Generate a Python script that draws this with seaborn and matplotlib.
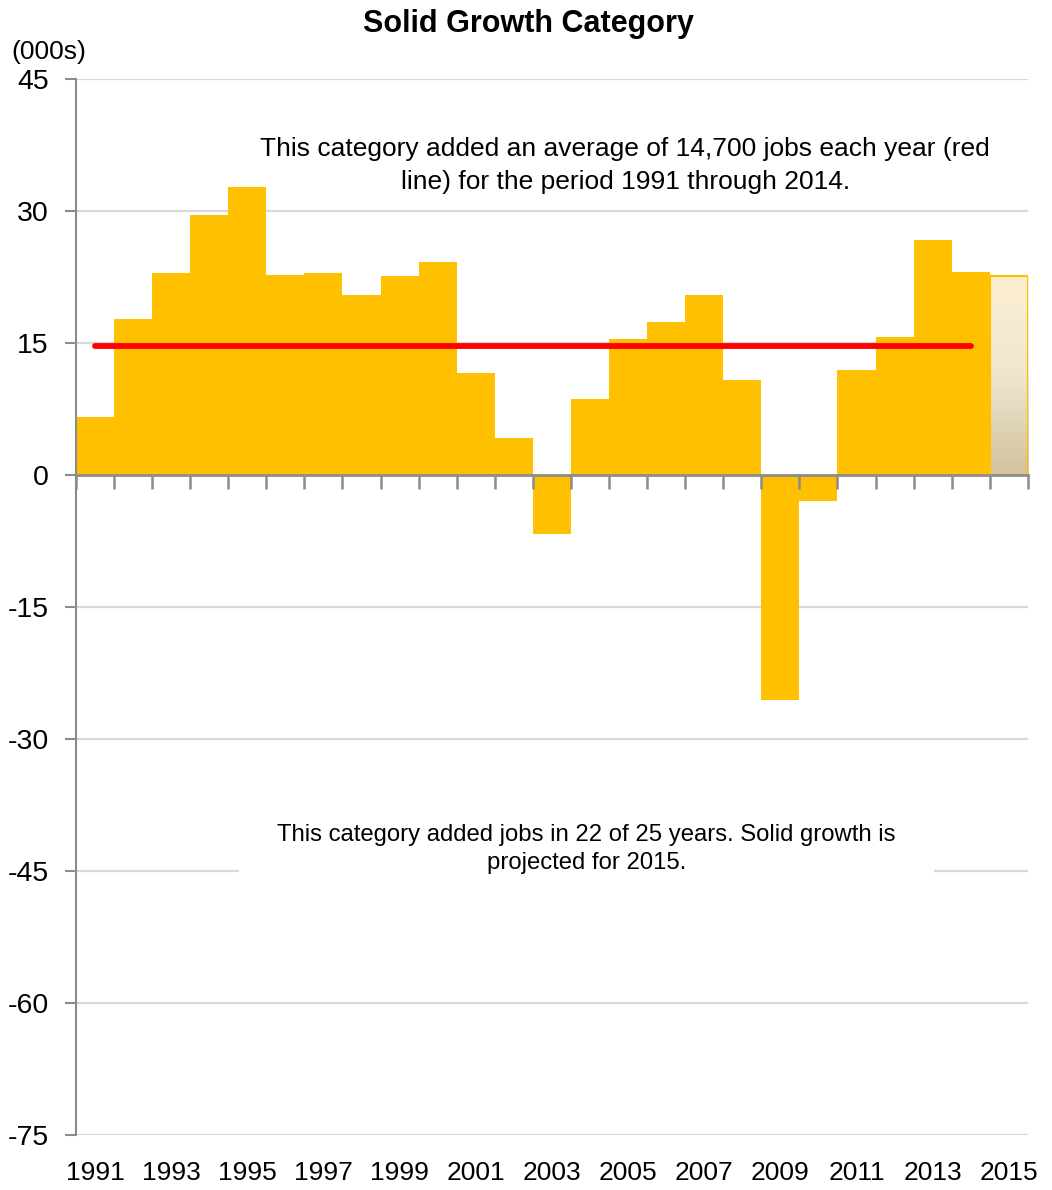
import numpy as np
import matplotlib
matplotlib.use("Agg")
import matplotlib.pyplot as plt
import seaborn as sns
from matplotlib.colors import LinearSegmentedColormap

years = [str(y) for y in range(1991, 2016)]
jobs = [6.6, 17.7, 22.9, 29.5, 32.7, 22.7, 22.9, 20.4, 22.6, 24.2, 11.6, 4.2,
        -6.7, 8.6, 15.5, 17.4, 20.5, 10.8, -25.6, -2.9, 11.9, 15.7, 26.7, 23.1,
        22.6]
avg_jobs = 14.7
avg_years = years[:-1]
y_ticks = [45, 30, 15, 0, -15, -30, -45, -60, -75]

note_top = ("This category added an average of 14,700 jobs each year (red\n"
            "line) for the period 1991 through 2014.")
note_bottom = ("This category added jobs in 22 of 25 years. Solid growth is\n"
               "projected for 2015.")

sns.set_theme(style="white")
plt.rcParams["font.family"] = ["Liberation Sans Narrow", "Liberation Sans", "DejaVu Sans"]
plt.rcParams["text.color"] = "black"
plt.rcParams["xtick.color"] = "black"
plt.rcParams["ytick.color"] = "black"

gold = "#FFC000"
grey = "#8C8C8C"

fig = plt.figure(figsize=(10.52, 11.9), dpi=100)
ax = fig.add_axes([0.0722, 0.0462, 0.9048, 0.8874])

for t in y_ticks:
    if t != 0:
        ax.axhline(t, color="#D9D9D9", linewidth=1.6, zorder=0)

sns.barplot(x=years, y=jobs, color=gold, saturation=1, width=1, ax=ax,
            linewidth=0, zorder=2)

# projected year: gradient fill clipped to the last bar
last = ax.patches[-1]
last.set_edgecolor(gold)
last.set_linewidth(1.5)
x0, y0 = last.get_x(), last.get_y()
w, h = last.get_width(), last.get_height()
cmap = LinearSegmentedColormap.from_list("proj", ["#D2C29E", "#EEE6CF", "#FDEFD3"])
grad = np.linspace(0, 1, 256).reshape(-1, 1)
img = ax.imshow(grad, cmap=cmap, aspect="auto", origin="lower",
                extent=[x0, x0 + w, y0, y0 + h], zorder=2.5)
img.set_clip_path(last)
last.set_facecolor("none")
last.set_zorder(3)

sns.lineplot(x=np.arange(len(avg_years)), y=[avg_jobs] * len(avg_years),
             color="#FF0000", linewidth=4.2, ax=ax, zorder=4,
             solid_capstyle="round")

ymin, ymax = -75, 45
ax.set_ylim(ymin, ymax)
ax.set_xlim(-0.5, len(years) - 0.5)
ax.set_yticks(y_ticks)
ax.set_yticklabels([str(t) for t in y_ticks])
ax.set_xticks(range(0, len(years), 2))
ax.set_xticklabels(years[::2])
ax.tick_params(axis="x", length=0, pad=19, labelsize=19)
ax.tick_params(axis="y", length=8, width=1.5, color=grey, direction="out",
               pad=11.5, labelsize=20.5, left=True)
for s in ["top", "right", "bottom"]:
    ax.spines[s].set_visible(False)
ax.spines["left"].set_color(grey)
ax.spines["left"].set_linewidth(1.5)
ax.set_xlabel("")
ax.set_ylabel("")

# zero line with category boundary ticks
zero_ax = ax.secondary_xaxis((0 - ymin) / (ymax - ymin))
zero_ax.set_zorder(5)
zero_ax.set_xticks(np.arange(-0.5, len(years), 1.0))
zero_ax.set_xticklabels([])
zero_ax.xaxis.set_ticks_position("bottom")
zero_ax.tick_params(axis="x", which="both", bottom=True, top=False,
                    labelbottom=False, labeltop=False,
                    length=10, width=1.8, color=grey, direction="out")
for s in zero_ax.spines.values():
    s.set_color(grey)
    s.set_linewidth(2)

ax.text(0.577, 0.918, note_top, transform=ax.transAxes, ha="center",
        va="center", fontsize=19, multialignment="center", zorder=5,
        linespacing=1.45)
ax.text(0.536, 0.271, note_bottom, transform=ax.transAxes, ha="center",
        va="center", fontsize=17.2, multialignment="center", zorder=5,
        linespacing=1.35,
        bbox=dict(boxstyle="square,pad=1.6", fc="white", ec="none"))

fig.text(0.502, 0.980, "Solid Growth Category", ha="center", va="center",
         fontsize=22, fontweight="bold")
fig.text(0.046, 0.956, "(000s)", ha="center", va="center", fontsize=19)

fig.savefig("out.png", dpi=100)
